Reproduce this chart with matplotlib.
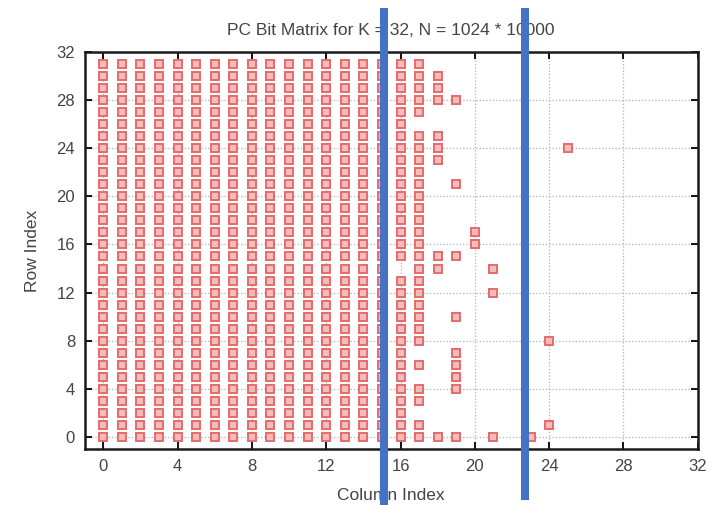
import numpy as np
import matplotlib
matplotlib.use('Agg')
import matplotlib.pyplot as plt
from matplotlib.lines import Line2D

plt.rcParams['font.family'] = ['Liberation Sans', 'DejaVu Sans']

# bit matrix: columns 0..15 are fully set (rows 0..31)
full_columns = [0, 1, 2, 3, 4, 5, 6, 7, 8, 9, 10, 11, 12, 13, 14, 15]
all_rows = [0, 1, 2, 3, 4, 5, 6, 7, 8, 9, 10, 11, 12, 13, 14, 15,
            16, 17, 18, 19, 20, 21, 22, 23, 24, 25, 26, 27, 28, 29, 30, 31]

# partially set columns
col16_rows = [0, 1, 2, 3, 4, 5, 6, 7, 8, 9, 10, 11, 12, 13, 15,
              16, 17, 18, 19, 20, 21, 22, 23, 24, 25, 26, 27, 28, 29, 30, 31]
col17_rows = [0, 1, 3, 4, 6, 8, 9, 10, 11, 12, 13, 14, 15,
              16, 17, 18, 19, 20, 21, 22, 23, 24, 25, 27, 28, 29, 30, 31]
col18_rows = [0, 14, 15, 23, 24, 25, 28, 29, 30]
col19_rows = [0, 4, 5, 6, 7, 10, 15, 21, 28]
col20_rows = [16, 17]
col21_rows = [0, 12, 14]
col23_rows = [0]
col24_rows = [1, 8]
col25_rows = [24]

partial = {16: col16_rows, 17: col17_rows, 18: col18_rows, 19: col19_rows,
           20: col20_rows, 21: col21_rows, 23: col23_rows, 24: col24_rows,
           25: col25_rows}

X, Y = [], []
for c in full_columns:
    for r in all_rows:
        X.append(c); Y.append(r)
for c, rows in partial.items():
    for r in rows:
        X.append(c); Y.append(r)

fig = plt.figure(figsize=(7.12, 5.05), dpi=100)
ax = fig.add_axes([0.119, 0.111, 0.861, 0.786])

ax.plot(X, Y, linestyle='none', marker='s', markersize=5.8,
        markerfacecolor='#f5bcbc', markeredgecolor='#e66a6c', markeredgewidth=1.4)

ax.set_xlim(-1, 32)
ax.set_ylim(-1, 32)
ax.set_xticks(np.arange(0, 33, 4))
ax.set_yticks(np.arange(0, 33, 4))
ax.grid(True, linestyle=':', color='#b0b0b0', linewidth=0.9)
ax.tick_params(direction='in', top=True, right=True, length=5, width=1.3,
               labelsize=12, labelcolor='#444444', pad=7)
for s in ax.spines.values():
    s.set_linewidth(1.8)
    s.set_color('#1a1a1a')

ax.set_title('PC Bit Matrix for K = 32, N = 1024 * 10000', fontsize=12.5,
             color='#444444', pad=12)
ax.set_xlabel('Column Index', fontsize=12.5, color='#444444', labelpad=10)
ax.set_ylabel('Row Index', fontsize=12.5, color='#444444', labelpad=12)

# blue vertical overlay bars
fig.add_artist(Line2D([0.539, 0.539], [0.0, 0.976], color='#4472C4', linewidth=5.8))
fig.add_artist(Line2D([0.7367, 0.7367], [0.018, 0.976], color='#4472C4', linewidth=5.8))

plt.savefig('out.png', dpi=100)
